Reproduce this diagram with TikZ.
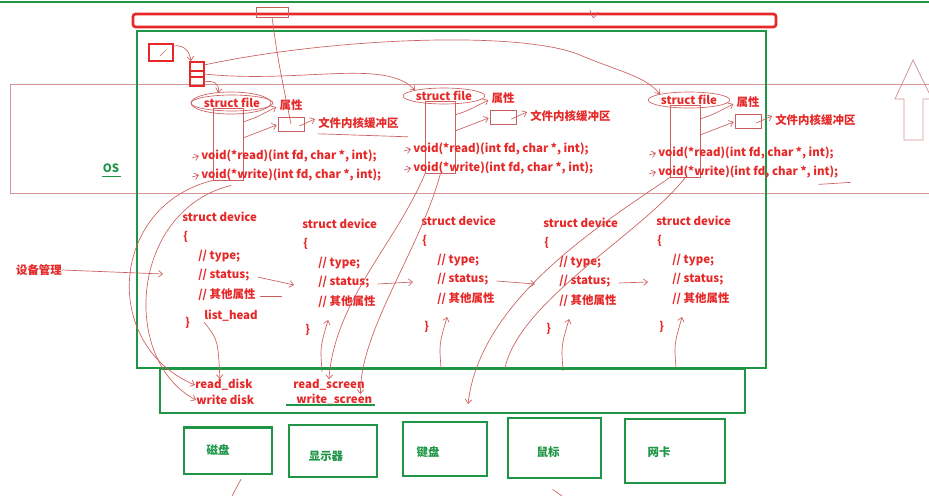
\documentclass[tikz,border=0pt]{standalone}
\usepackage{fontspec}
\setmainfont{Noto Sans CJK SC}
\usetikzlibrary{shapes.geometric, arrows.meta, positioning, calc}
\definecolor{myred}{RGB}{230,40,40}
\definecolor{mygreen}{RGB}{30,150,70}
\definecolor{mypink}{RGB}{205,95,95}
\definecolor{myband}{RGB}{215,150,150}
\newcommand{\codefont}{\fontsize{8.6}{10}\selectfont\bfseries}
\tikzset{
  code/.style={anchor=west, inner sep=0pt, text=myred, font=\codefont},
  sfile/.style={ellipse, draw=mypink, line width=0.5pt, inner sep=0.6pt,
    text=myred, font=\codefont},
  pbox/.style={rectangle, draw=mypink, line width=0.5pt, inner sep=0pt},
  hwbox/.style={rectangle, draw=mygreen, line width=2pt, inner sep=0pt},
  hwtext/.style={inner sep=0pt, text=mygreen, font=\codefont},
  greenbox/.style={draw=mygreen, line width=2pt},
  redbar/.style={draw=myred, line width=2pt, rounded corners=2pt},
  sketch/.style={draw=mypink, line width=0.5pt},
  band/.style={draw=myband, line width=0.6pt},
  tick/.style={-{Straight Barb[length=3pt, width=5pt]}, draw=mypink, line width=0.5pt}
}

\begin{document}
\begin{tikzpicture}[x=0.75pt, y=-0.75pt]
  \useasboundingbox (0,0) rectangle (929,496);

  % ── top frame ────────────────────────────────────────────────────────────
  \draw[greenbox] (0,2) -- (929,2);
  \draw[redbar] (133,14) rectangle (776,27);
  \node[pbox, minimum width=24pt, minimum height=7.5pt] (toprect) at (272,12) {};
  \draw[sketch] (590,10) .. controls (593,20) .. (598,12);

  % OS band and up arrow
  \draw[band] (929,84) -- (10,84) -- (10,193) -- (929,193);
  \node[inner sep=0pt, text=mygreen, font=\codefont] (os) at (111,168) {OS};
  \draw[draw=mygreen, line width=0.6pt] (102,176) -- (121,176);
  \draw[band] (913,60) -- (895,99) -- (904,99) -- (904,140) -- (923,140)
    -- (923,99) -- (932,99) -- cycle;

  % kernel box
  \draw[greenbox] (137,31) rectangle (766,368);

  % ── fd table ─────────────────────────────────────────────────────────────
  \draw[draw=myred, line width=1.8pt] (149,44) rectangle (173,61);
  \draw[sketch] (160,56) -- (166,50);
  \draw[draw=myred, line width=1.8pt] (190,62) rectangle (204,86);
  \draw[draw=myred, line width=1.2pt] (190,71) -- (204,71);
  \draw[draw=myred, line width=1.2pt] (190,77) -- (204,77);
  \coordinate (slot1) at (204,65);
  \coordinate (slot2) at (204,74);
  \coordinate (slot3) at (204,82);
  \draw[tick] (173,46) .. controls (186,44) and (190,54) .. (191,61);

  % ── struct file groups ───────────────────────────────────────────────────
  \foreach \g/\x/\y in {1/232/103, 2/444/96, 3/689/100}{
    \node[sfile] (sf\g) at (\x,\y) {struct file};
    \node[pbox, minimum width=22.5pt, minimum height=54pt] (fr\g)
      at ($(sf\g)+(-3.5,41)$) {};
    \node[code, anchor=center] (attr\g) at ($(sf\g)+(59,2)$) {属性};
    \node[pbox, minimum width=19.5pt, minimum height=10.5pt] (buf\g)
      at ($(sf\g)+(59,21)$) {};
    \node[code] (bt\g) at ($(sf\g)+(86,20)$) {文件内核缓冲区};
    \node[code] (rd\g) at ($(sf\g)+(-31,53)$) {void(*read)(int fd, char *, int);};
    \node[code] (wr\g) at ($(sf\g)+(-31,72)$) {void(*write)(int fd, char *, int);};
    \draw[tick] ($(fr\g.north east)+(0,14)$) .. controls +(12,-4) .. ($(attr\g.west)+(-3,2)$);
    \draw[tick] ($(fr\g.north east)+(0,30)$) -- ($(buf\g.west)+(-1,1)$);
    \draw[tick] ($(buf\g.east)+(-5,2)$) -- ($(bt\g.west)+(-3,-4)$);
    \draw[tick] ($(rd\g.west)+(-9,2)$) -- ($(rd\g.west)+(-2,0)$);
    \draw[tick] ($(wr\g.west)+(-9,2)$) -- ($(wr\g.west)+(-2,0)$);
  }
  \draw[sketch] ($(sf1)+(-1,0)$) ellipse (40 and 11);
  \draw[sketch] ($(bt1.south west)+(0,5)$) -- ++(90,3);
  \draw[sketch] ($(wr3.south east)+(-20,6)$) -- ++(32,-2);

  % fd table → file objects
  \draw[tick] (slot1) .. controls (330,38) and (520,30) .. (580,55)
    .. controls (620,72) and (645,76) .. (sf3.north west);
  \draw[tick] (slot2) .. controls (300,84) and (385,58) .. (sf2.north west);
  \draw[tick] (slot3) .. controls (214,80) and (220,84) .. ($(sf1.north)+(-14,-2)$);
  \draw[sketch] (toprect.south) .. controls (278,60) .. (buf1.center);

  % ── devices ──────────────────────────────────────────────────────────────
  \foreach \n/\x/\y in {1/182/217, 2/302/224, 3/421/221, 4/543/223, 5/656/221}{
    \node[code] (dev\n) at (\x,\y) {struct device};
    \node[code] (lb\n) at ($(dev\n.west)+(1,20)$) {\{};
    \node[code] (ty\n) at ($(dev\n.west)+(16,39)$) {// type;};
    \node[code] (st\n) at ($(dev\n.west)+(16,58)$) {// status;};
    \node[code] (ot\n) at ($(dev\n.west)+(16,78)$) {// 其他属性};
    \node[code] (rb\n) at ($(dev\n.west)+(3,106)$) {\}};
  }
  \node[code] (lh) at (204,316) {list\_head};
  \node[code, anchor=center] (mgmt) at (39,270) {设备管理};
  \draw[tick] (mgmt.east) -- (163,274);

  \foreach \a/\b in {1/2, 2/3, 3/4, 4/5}
    \draw[tick] ($(st\a.east)+(8,2)$) -- ($(st\b.west)+(-24,3)$);
  \draw[sketch] ($(ot1.east)+(4,1)$) -- ++(22,0);
  \foreach \n in {2,...,5}
    \draw[tick] ($(rb\n.east)+(12,42)$) .. controls +(-2,-25) .. ($(rb\n.east)+(18,-10)$);

  % ── drivers and hardware ─────────────────────────────────────────────────
  \draw[greenbox] (160,369) rectangle (745,413);
  \node[code] (rdisk) at (195,385) {read\_disk};
  \node[code] (wdisk) at (196,400) {write disk};
  \node[code] (rscreen) at (293,385) {read\_screen};
  \node[code] (wscreen) at (296,400) {write\_screen};
  \draw[draw=mygreen, line width=1pt] (286,405) -- (375,405);
  \coordinate (drvtip) at (468,404);

  \draw[tick] (fr1.south west) .. controls (110,205) and (100,345) .. (rdisk.west);
  \draw[tick] ($(wr1.south)+(-60,4)$) .. controls (130,210) and (120,360) .. (wdisk.west);
  \draw[tick] (lh.south west) .. controls (218,340) .. ($(rdisk.north)+(-4,0)$);
  \draw[tick] (fr2.south west) .. controls (395,245) and (335,300) .. (rscreen.north);
  \draw[tick] (fr2.south) .. controls (420,250) and (360,330) .. ($(wscreen.north east)+(-12,0)$);
  \draw[tick] (fr3.south west) .. controls (600,225) and (480,300) .. (drvtip);
  \draw[sketch] (fr3.south) .. controls (640,235) and (520,300) .. (505,368);

  \node[hwbox, minimum width=66pt, minimum height=35pt] (disk) at (228,450.5) {};
  \node[hwbox, minimum width=66pt, minimum height=39pt] (screen) at (333,451) {};
  \node[hwbox, minimum width=63pt, minimum height=40.5pt] (kbd) at (445,449) {};
  \node[hwbox, minimum width=69.75pt, minimum height=45pt] (mouse) at (554.5,448) {};
  \node[hwbox, minimum width=75pt, minimum height=48pt] (nic) at (675,451) {};
  \node[hwtext] (disklbl) at (218,450) {磁盘};
  \node[hwtext] (screenlbl) at (326,456) {显示器};
  \node[hwtext] (kbdlbl) at (428,452) {键盘};
  \node[hwtext] (mouselbl) at (548,452) {鼠标};
  \node[hwtext] (niclbl) at (659,452) {网卡};
  \draw[sketch] ($(disk.south)+(13,4)$) -- (232,496);
  \draw[sketch] ($(mouse.south)+(-2,10)$) -- (562,496);
\end{tikzpicture}
\end{document}
